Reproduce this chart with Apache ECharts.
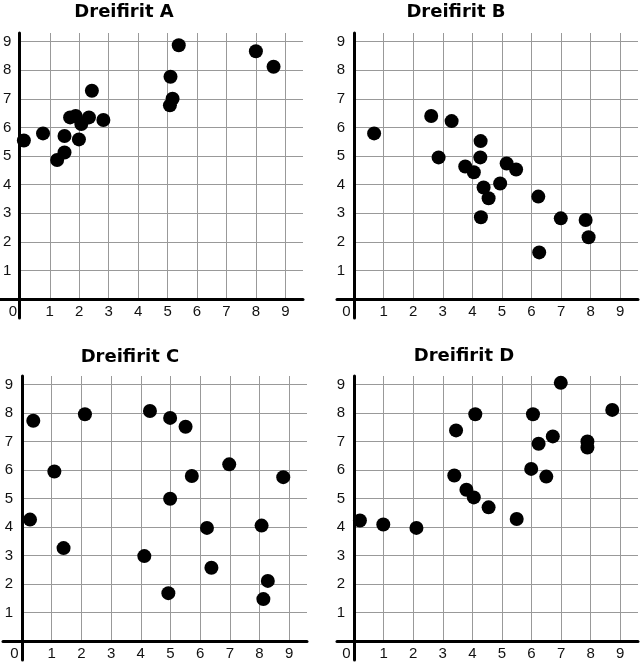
<!DOCTYPE html>
<html><head><meta charset="utf-8">
<script src="https://cdn.jsdelivr.net/npm/echarts@6/dist/echarts.min.js"></script>
<style>html,body{margin:0;padding:0;background:#fff}#c{width:640px;height:667px}</style>
</head><body><div id="c"></div>
<script>
const titles = ['Dreifirit A', 'Dreifirit B', 'Dreifirit C', 'Dreifirit D'];
const tickLabels = ['0', '1', '2', '3', '4', '5', '6', '7', '8', '9'];

const xA = [0.12, 0.77, 1.25, 1.50, 1.50, 1.69, 1.88, 2.07, 1.99, 2.33, 2.43, 2.82, 5.10, 5.17, 5.08, 5.38, 8.00, 8.60];
const yA = [5.54, 5.79, 4.86, 5.12, 5.70, 6.35, 6.40, 6.12, 5.58, 6.35, 7.28, 6.26, 7.77, 7.00, 6.77, 8.87, 8.66, 8.12];

const xB = [0.68, 2.61, 3.30, 2.86, 3.76, 4.05, 4.28, 4.27, 4.38, 4.55, 4.29, 4.94, 5.16, 5.48, 6.23, 6.26, 6.99, 7.83, 7.93];
const yB = [5.79, 6.40, 6.22, 4.95, 4.63, 4.43, 5.52, 4.95, 3.90, 3.52, 2.86, 4.04, 4.74, 4.53, 3.58, 1.63, 2.82, 2.76, 2.16];

const xC = [0.38, 0.27, 1.09, 1.40, 2.12, 4.31, 4.12, 4.99, 4.99, 4.93, 5.51, 5.72, 6.23, 6.38, 6.98, 8.07, 8.28, 8.13, 8.80];
const yC = [7.73, 4.26, 5.95, 3.26, 7.96, 8.07, 2.98, 7.83, 4.99, 1.68, 7.52, 5.79, 3.97, 2.57, 6.20, 4.05, 2.11, 1.47, 5.75];

const xD = [0.20, 0.99, 2.11, 3.45, 3.39, 3.80, 4.05, 4.10, 4.55, 5.50, 5.99, 6.05, 6.24, 6.50, 6.72, 6.99, 7.89, 7.89, 8.73];
const yD = [4.23, 4.09, 3.97, 7.39, 5.81, 5.31, 5.04, 7.96, 4.69, 4.28, 6.04, 7.96, 6.92, 5.77, 7.18, 9.06, 7.00, 6.79, 8.11];

const seriesX = [xA, xB, xC, xD];
const seriesY = [yA, yB, yC, yD];

const xMax = 9.6, yMax = 9.3;
const panels = [
  { x0: 19,  top: 33,  w: 284, h: 266, extX: 19, extY: 19, tx: 124, ty: 3 },
  { x0: 354, top: 33,  w: 284, h: 266, extX: 17, extY: 19, tx: 456, ty: 3 },
  { x0: 22,  top: 376, w: 285, h: 265, extX: 19, extY: 19, tx: 130, ty: 348 },
  { x0: 354, top: 376, w: 284, h: 265, extX: 17, extY: 19, tx: 464, ty: 347 }
];

const labelFont = { fontSize: 15, color: '#111', fontFamily: 'Liberation Sans' };
const grid = [], xAxis = [], yAxis = [], series = [], title = [];

panels.forEach((p, i) => {
  const ux = p.w / xMax, uy = p.h / yMax;
  grid.push({ left: p.x0, top: p.top, width: p.w, height: p.h });
  grid.push({ left: p.x0 - p.extX, top: p.top, width: p.w + p.extX, height: p.h + p.extY });
  const gi = 2 * i, go = 2 * i + 1;
  xAxis.push({
    gridIndex: gi, type: 'value', min: 0, max: xMax, interval: 1,
    axisLine: { show: false }, axisTick: { show: false },
    splitLine: { show: true, showMaxLine: false, lineStyle: { color: '#999', width: 1 } },
    axisLabel: Object.assign({}, labelFont, {
      margin: 5, showMaxLabel: false,
      formatter: v => Number.isInteger(v) ? (v === 0 ? '{z|' + tickLabels[0] + '}' : tickLabels[v]) : '',
      rich: { z: Object.assign({}, labelFont, { padding: [0, 15, 0, 0] }) }
    })
  });
  yAxis.push({
    gridIndex: gi, type: 'value', min: 0, max: yMax, interval: 1,
    axisLine: { show: false }, axisTick: { show: false },
    splitLine: { show: true, showMaxLine: false, lineStyle: { color: '#999', width: 1 } },
    axisLabel: Object.assign({}, labelFont, {
      margin: 9, showMaxLabel: false,
      formatter: v => (Number.isInteger(v) && v !== 0) ? tickLabels[v] : ''
    })
  });
  xAxis.push({
    gridIndex: go, type: 'value', min: -p.extX / ux, max: xMax, z: 3,
    axisLine: { show: true, onZero: true, lineStyle: { color: '#000', width: 3 } },
    axisTick: { show: false }, axisLabel: { show: false }, splitLine: { show: false }
  });
  yAxis.push({
    gridIndex: go, type: 'value', min: -p.extY / uy, max: yMax, z: 3,
    axisLine: { show: true, onZero: true, lineStyle: { color: '#000', width: 3 } },
    axisTick: { show: false }, axisLabel: { show: false }, splitLine: { show: false }
  });
  series.push({
    type: 'scatter', xAxisIndex: gi, yAxisIndex: gi, z: 5,
    symbolSize: 14, itemStyle: { color: '#000', opacity: 1 },
    data: seriesX[i].map((x, k) => [x, seriesY[i][k]])
  });
  title.push({
    text: titles[i], left: p.tx, top: p.ty, textAlign: 'center', padding: 0,
    textStyle: { fontFamily: 'DejaVu Sans', fontWeight: 'bold', fontSize: 18, color: '#000' }
  });
});

const chart = echarts.init(document.getElementById('c'), null, { renderer: 'canvas' });
chart.setOption({ animation: false, backgroundColor: '#fff', title, grid, xAxis, yAxis, series });
</script>
</body></html>
